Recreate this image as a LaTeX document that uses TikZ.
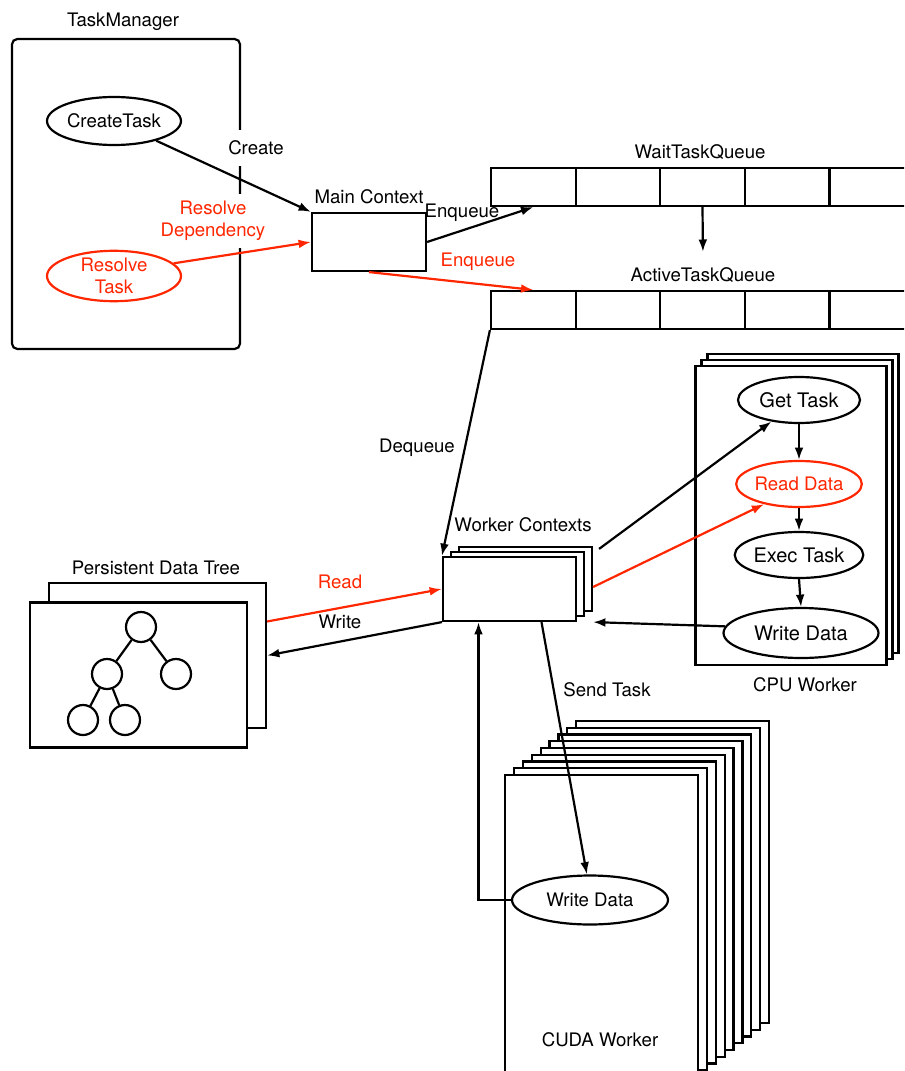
\documentclass[tikz,border=0pt]{standalone}
\usepackage{fontspec}
\setmainfont{TeX Gyre Heros}
\usetikzlibrary{shapes.geometric,arrows.meta}
\definecolor{resred}{RGB}{255,38,0}

\begin{document}
\begin{tikzpicture}[x=0.02cm, y=-0.02cm, line width=1.25pt,
	every node/.style={font=\fontsize{10.6pt}{12.4pt}\selectfont},
	box/.style={draw, fill=white, rectangle, inner sep=0pt},
	oval/.style={draw, fill=white, ellipse, inner sep=0pt, align=center},
	bigoval/.style={oval, font=\fontsize{11.4pt}{13pt}\selectfont},
	cell/.style={draw, rectangle, minimum width=1.692cm, minimum height=0.76cm, inner sep=0pt},
	dot/.style={draw, circle, minimum size=0.6cm, inner sep=0pt},
	tip/.style={-{Latex[length=7pt,width=5pt]}}]
			\useasboundingbox (0,0) rectangle (904,1071);
			\clip (0,0) rectangle (904,1071);
			% task manager
			\node[box, rounded corners=3pt, minimum width=4.56cm, minimum height=6.2cm](taskmgr) at (126,194){};
			\node(taskmgrlbl) at (123,22){TaskManager};
			\node[oval, minimum width=2.68cm, minimum height=0.96cm](createtask) at (114,121){CreateTask};
			\node[oval, draw=resred, text=resred, minimum width=2.68cm, minimum height=0.96cm](resolvetask) at (114,276){Resolve\\Task};
			\node[box, minimum width=2.28cm, minimum height=1.16cm](mainctx) at (369,242){};
			\node(mainctxlbl) at (369,197){Main Context};
			\node[fill=white, inner xsep=4pt, inner ysep=6pt](createlbl) at (256,148){Create};
			\node[fill=white, text=resred, align=center, inner xsep=2pt, inner ysep=4pt](resdeplbl) at (213,221){Resolve\\Dependency};
			\draw[tip] (createtask.335) -- (mainctx.north west);
			\draw[tip, resred] (resolvetask.12) -- (mainctx.west);
			% queues
			\foreach \i in {0,...,4} {
				\node[cell](wait\i) at ({533.3+84.6*\i},187){};
				\node[cell](active\i) at ({533.3+84.6*\i},310){};
			}
			\node(waitlbl) at (700,152){WaitTaskQueue};
			\node(activelbl) at (703,275){ActiveTaskQueue};
			\draw[tip, shorten >=5pt] (wait2.south) -- (activelbl.north);
			\draw[tip] (mainctx.east) -- (wait0.south);
			\node(enqlbl) at (462,213){Enqueue};
			\draw[tip, resred] (mainctx.south) -- (active0.north);
			\node[text=resred](redenqlbl) at (478,262){Enqueue};
			% worker contexts
			\foreach \k/\nm in {2/wc3,1/wc2,0/wc1}
				\node[box, minimum width=2.66cm, minimum height=1.28cm](\nm) at ({509.5+8*\k},{589-5*\k}){};
			\node(wclbl) at (523,525){Worker Contexts};
			\draw[tip] (active0.south west) -- (wc1.north west);
			\node(deqlbl) at (417,448){Dequeue};
			% cpu worker
			\foreach \k/\nm in {2/cpu3,1/cpu2,0/cpu1}
				\node[box, minimum width=3.82cm, minimum height=5.98cm](\nm) at ({791+6*\k},{515.5-6*\k}){};
			\node[bigoval, minimum width=2.44cm, minimum height=0.92cm](gettask) at (799,400){Get Task};
			\node[oval, draw=resred, text=resred, minimum width=2.44cm, minimum height=0.92cm](readdata) at (799,484){Read Data};
			\node[bigoval, minimum width=2.44cm, minimum height=0.92cm](exectask) at (799,555){Exec Task};
			\node[bigoval, minimum width=3.1cm, minimum height=1.0cm](cpuwrite) at (801,633){Write Data};
			\node(cpulbl) at (805,685){CPU Worker};
			\draw[tip] (gettask.south) -- (readdata.north);
			\draw[tip] (readdata.south) -- (exectask.north);
			\draw[tip] (exectask.south) -- (cpuwrite.north);
			\draw[tip] ([shift={(6,3)}]wc3.north east) -- (gettask.218);
			\draw[tip, resred] ([shift={(0,8)}]wc3.east) -- (readdata.210);
			\draw[tip] (cpuwrite.175) -- ([shift={(0,10)}]wc3.south east);
			% persistent data tree
			\node[box, minimum width=4.34cm, minimum height=2.9cm](pdtback) at (157.5,655.5){};
			\node[box, minimum width=4.34cm, minimum height=2.9cm](pdtfront) at (138.5,675){};
			\node(pdtlbl) at (156,568){Persistent Data Tree};
			\node[dot](root) at (141,627){};
			\node[dot](lchild) at (107,674){};
			\node[dot](rchild) at (176,674){};
			\node[dot](llchild) at (83,720){};
			\node[dot](lrchild) at (125,720){};
			\draw (root) -- (lchild) (root) -- (rchild) (lchild) -- (llchild) (lchild) -- (lrchild);
			\draw[tip, resred] ([shift={(0,-34)}]pdtback.east) -- (wc1.west);
			\draw[tip] (wc1.south west) -- (pdtback.east);
			\node[text=resred](readlbl) at (340,582){Read};
			\node(writelbl) at (340,622){Write};
			% cuda worker
			\foreach \k in {8,7,...,0}
				\node[box, minimum width=3.86cm, minimum height=6.04cm](cuda\k) at ({601.5+8.9*\k},{926-6.75*\k}){};
			\node[oval, minimum width=3.12cm, minimum height=0.98cm](cudawrite) at (590,900){Write Data};
			\node(cudalbl) at (600,1040){CUDA Worker};
			\draw[tip] ([shift={(32,0)}]wc1.south) -- (cudawrite.97);
			\node(sendlbl) at (607,690){Send Task};
			\draw[tip] (cudawrite.west) -| ([shift={(-31,0)}]wc1.south);
		\end{tikzpicture}
\end{document}
